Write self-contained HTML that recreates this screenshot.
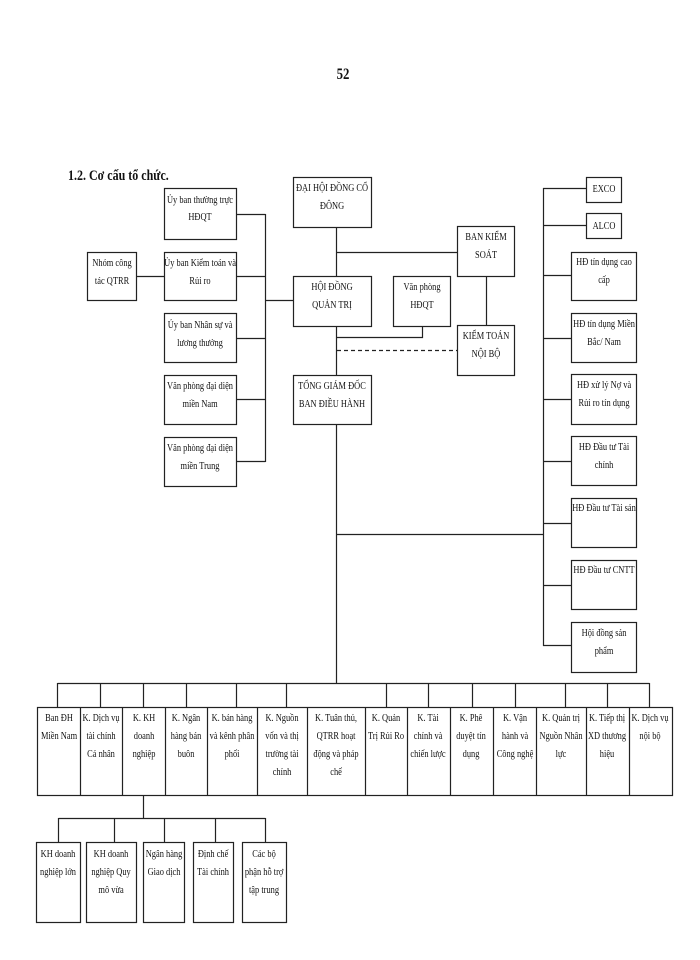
<!DOCTYPE html>
<html><head><meta charset="utf-8"><style>
html,body{margin:0;padding:0;background:#fff}
svg{display:block}
text{font-family:"Liberation Serif",serif;font-size:10.5px;fill:#111;transform-box:fill-box;transform-origin:center;transform:scaleX(0.8)}
</style></head><body>
<svg width="700" height="960" viewBox="0 0 700 960" xmlns="http://www.w3.org/2000/svg">
<g fill="none" stroke="#222" stroke-width="1.2">
<rect x="164.5" y="188.5" width="72" height="51"/>
<rect x="164.5" y="252.5" width="72" height="48"/>
<rect x="164.5" y="313.5" width="72" height="49"/>
<rect x="164.5" y="375.5" width="72" height="49"/>
<rect x="164.5" y="437.5" width="72" height="49"/>
<rect x="87.5" y="252.5" width="49" height="48"/>
<rect x="293.5" y="177.5" width="78" height="50"/>
<rect x="293.5" y="276.5" width="78" height="50"/>
<rect x="293.5" y="375.5" width="78" height="49"/>
<rect x="457.5" y="226.5" width="57" height="50"/>
<rect x="393.5" y="276.5" width="57" height="50"/>
<rect x="457.5" y="325.5" width="57" height="50"/>
<rect x="586.5" y="177.5" width="35" height="25"/>
<rect x="586.5" y="213.5" width="35" height="25"/>
<rect x="571.5" y="252.5" width="65" height="48"/>
<rect x="571.5" y="313.5" width="65" height="49"/>
<rect x="571.5" y="374.5" width="65" height="50"/>
<rect x="571.5" y="436.5" width="65" height="49"/>
<rect x="571.5" y="498.5" width="65" height="49"/>
<rect x="571.5" y="560.5" width="65" height="49"/>
<rect x="571.5" y="622.5" width="65" height="50"/>
<rect x="37.5" y="707.5" width="635" height="88"/>
<path d="M80.5 707v88M122.5 707v88M165.5 707v88M207.5 707v88M257.5 707v88M307.5 707v88M365.5 707v88M407.5 707v88M450.5 707v88M493.5 707v88M536.5 707v88M586.5 707v88M629.5 707v88"/>
<rect x="36.5" y="842.5" width="44" height="80"/>
<rect x="86.5" y="842.5" width="50" height="80"/>
<rect x="143.5" y="842.5" width="41" height="80"/>
<rect x="193.5" y="842.5" width="40" height="80"/>
<rect x="242.5" y="842.5" width="44" height="80"/>
<path d="M236 214.5H265.5M236 276.5H265.5M236 338.5H265.5M236 399.5H265.5M236 461.5H265.5M265.5 214V462M137 276.5H164M265 300.5H293"/>
<path d="M336.5 227V276M336.5 326V375M336.5 424V684M336 252.5H457M486.5 276V325M422.5 326V337.5H336"/>
<path d="M336 534.5H543.5M543.5 188V646M543 188.5H586M543 225.5H586M543 275.5H571M543 338.5H571M543 399.5H571M543 461.5H571M543 523.5H571M543 585.5H571M543 645.5H571"/>
<path d="M57.5 683.5H649.5M57.5 683V707M100.5 683V707M143.5 683V707M186.5 683V707M236.5 683V707M286.5 683V707M386.5 683V707M428.5 683V707M472.5 683V707M515.5 683V707M565.5 683V707M607.5 683V707M649.5 683V707"/>
<path d="M143.5 795V818M58.5 818.5H265.5M58.5 818V842M114.5 818V842M164.5 818V842M215.5 818V842M265.5 818V842"/>
</g>
<path d="M337 350.5H457" stroke="#222" stroke-width="1.2" stroke-dasharray="4,3" fill="none"/>

<text x="343" y="79" text-anchor="middle" style="font-size:16px;font-weight:bold">52</text>
<text x="68" y="180" style="font-size:15px;font-weight:bold;transform-origin:left center">1.2. Cơ cấu tổ chức.</text>

<g text-anchor="middle">
<text x="200" y="203">Ủy ban thường trực</text><text x="200" y="220">HĐQT</text>
<text x="200" y="266">Ủy ban Kiểm toán và</text><text x="200" y="284">Rủi ro</text>
<text x="200" y="328">Ủy ban Nhân sự và</text><text x="200" y="346">lương thưởng</text>
<text x="200" y="389">Văn phòng đại diện</text><text x="200" y="407">miền Nam</text>
<text x="200" y="451">Văn phòng đại diện</text><text x="200" y="469">miền Trung</text>
<text x="112" y="266">Nhóm công</text><text x="112" y="284">tác QTRR</text>

<text x="332" y="191">ĐẠI HỘI ĐỒNG CỔ</text><text x="332" y="209">ĐÔNG</text>
<text x="332" y="290">HỘI ĐỒNG</text><text x="332" y="308">QUẢN TRỊ</text>
<text x="332" y="389">TỔNG GIÁM ĐỐC</text><text x="332" y="407">BAN ĐIỀU HÀNH</text>
<text x="486" y="240">BAN KIỂM</text><text x="486" y="258">SOÁT</text>
<text x="422" y="290">Văn phòng</text><text x="422" y="308">HĐQT</text>
<text x="486" y="339">KIỂM TOÁN</text><text x="486" y="357">NỘI BỘ</text>

<text x="604" y="192">EXCO</text>
<text x="604" y="229">ALCO</text>
<text x="604" y="265">HĐ tín dụng cao</text><text x="604" y="283">cấp</text>
<text x="604" y="327">HĐ tín dụng Miền</text><text x="604" y="345">Bắc/ Nam</text>
<text x="604" y="388">HĐ xử lý Nợ và</text><text x="604" y="406">Rủi ro tín dụng</text>
<text x="604" y="450">HĐ Đầu tư Tài</text><text x="604" y="468">chính</text>
<text x="604" y="511">HĐ Đầu tư Tài sản</text>
<text x="604" y="573">HĐ Đầu tư CNTT</text>
<text x="604" y="636">Hội đồng sản</text><text x="604" y="654">phẩm</text>

<text x="59" y="721">Ban ĐH</text><text x="59" y="739">Miền Nam</text>
<text x="101" y="721">K. Dịch vụ</text><text x="101" y="739">tài chính</text><text x="101" y="757">Cá nhân</text>
<text x="144" y="721">K. KH</text><text x="144" y="739">doanh</text><text x="144" y="757">nghiệp</text>
<text x="186" y="721">K. Ngân</text><text x="186" y="739">hàng bán</text><text x="186" y="757">buôn</text>
<text x="232" y="721">K. bán hàng</text><text x="232" y="739">và kênh phân</text><text x="232" y="757">phối</text>
<text x="282" y="721">K. Nguồn</text><text x="282" y="739">vốn và thị</text><text x="282" y="757">trường tài</text><text x="282" y="775">chính</text>
<text x="336" y="721">K. Tuân thủ,</text><text x="336" y="739">QTRR hoạt</text><text x="336" y="757">động và pháp</text><text x="336" y="775">chế</text>
<text x="386" y="721">K. Quản</text><text x="386" y="739">Trị Rủi Ro</text>
<text x="428" y="721">K. Tài</text><text x="428" y="739">chính và</text><text x="428" y="757">chiến lược</text>
<text x="471" y="721">K. Phê</text><text x="471" y="739">duyệt tín</text><text x="471" y="757">dụng</text>
<text x="515" y="721">K. Vận</text><text x="515" y="739">hành và</text><text x="515" y="757">Công nghệ</text>
<text x="561" y="721">K. Quản trị</text><text x="561" y="739">Nguồn Nhân</text><text x="561" y="757">lực</text>
<text x="607" y="721">K. Tiếp thị</text><text x="607" y="739">XD thương</text><text x="607" y="757">hiệu</text>
<text x="650" y="721">K. Dịch vụ</text><text x="650" y="739">nội bộ</text>

<text x="58" y="857">KH doanh</text><text x="58" y="875">nghiệp lớn</text>
<text x="111" y="857">KH doanh</text><text x="111" y="875">nghiệp Quy</text><text x="111" y="893">mô vừa</text>
<text x="164" y="857">Ngân hàng</text><text x="164" y="875">Giao dịch</text>
<text x="213" y="857">Định chế</text><text x="213" y="875">Tài chính</text>
<text x="264" y="857">Các bộ</text><text x="264" y="875">phận hỗ trợ</text><text x="264" y="893">tập trung</text>
</g>
</svg>
</body></html>
